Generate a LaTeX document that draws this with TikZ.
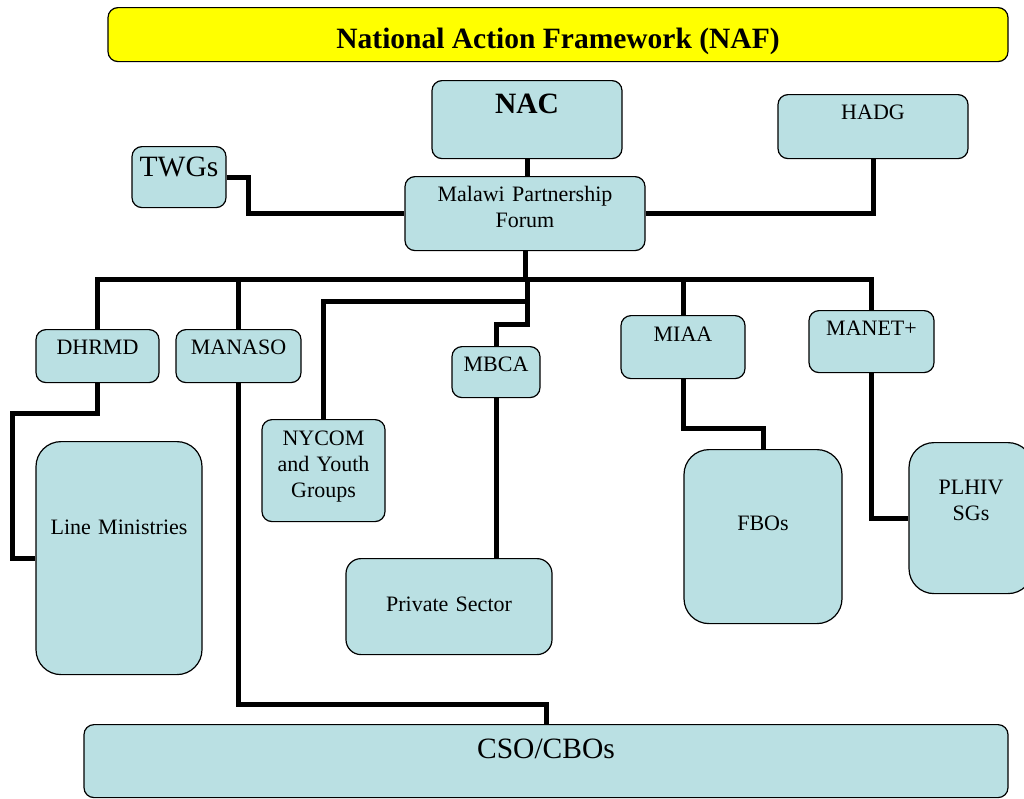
\documentclass[tikz,border=0pt]{standalone}
\usepackage{fontspec}
\setmainfont{Liberation Serif}
\usetikzlibrary{positioning}
\definecolor{myfill}{RGB}{186,224,227}
\definecolor{myyellow}{RGB}{255,255,0}
\newcommand{\boxfont}{\fontsize{22}{26}\selectfont}
\newcommand{\bigboxfont}{\fontsize{29.5}{34}\selectfont}
\tikzset{
  box/.style={rectangle, draw=black, fill=myfill, line width=1.2pt,
    rounded corners=10pt, align=center, anchor=north,
    inner ysep=0pt, inner xsep=2pt, font=\boxfont},
  bigbox/.style={box, rounded corners=25pt},
  titlebox/.style={box, fill=myyellow, font=\bigboxfont\bfseries},
  conn/.style={line width=5pt, color=black}
}

\begin{document}
\begin{tikzpicture}[x=1pt, y=-1pt]
  \useasboundingbox (0,0) rectangle (1024,798);

  % Title
  \node[titlebox, minimum width=900pt, text height=41pt, text depth=13pt] (naf) at (558,7) {National Action Framework (NAF)};

  % Top level
  \node[box, font=\bigboxfont\bfseries, minimum width=190pt, text height=33pt, text depth=45pt] (nac) at (527,80) {NAC};
  \node[box, minimum width=190pt, text height=25pt, text depth=39pt] (hadg) at (873,94) {HADG};
  \node[box, font=\bigboxfont, minimum width=94pt, text height=30pt, text depth=31pt] (twgs) at (179,146) {TWGs};
  \node[box, minimum width=240pt, text width=230pt, text height=25pt, text depth=49pt] (mpf) at (525,176) {Malawi Partnership\\Forum};

  % Second level
  \node[box, minimum width=123pt, text height=25pt, text depth=28pt] (dhrmd) at (97.5,329) {DHRMD};
  \node[box, minimum width=125pt, text height=25pt, text depth=28pt] (manaso) at (238.5,329) {MANASO};
  \node[box, minimum width=88pt, text height=25pt, text depth=26pt] (mbca) at (496,346) {MBCA};
  \node[box, minimum width=124pt, text height=26pt, text depth=37pt] (miaa) at (683,315) {MIAA};
  \node[box, minimum width=125pt, text height=25pt, text depth=37pt] (manet) at (871.5,310) {MANET+};
  \node[box, minimum width=123pt, text width=113pt, text height=26pt, text depth=76pt] (nycom) at (323.5,419) {NYCOM\\and Youth\\Groups};

  % Bottom level
  \node[bigbox, minimum width=166pt, text width=156pt, text height=93pt, text depth=140pt] (lmin) at (119,441) {Line Ministries};
  \node[box, rounded corners=15pt, minimum width=206pt, text width=196pt, text height=53pt, text depth=43pt] (psec) at (449,558) {Private Sector};
  \node[bigbox, minimum width=158pt, text width=148pt, text height=81pt, text depth=93pt] (fbo) at (763,449) {FBOs};
  \node[bigbox, minimum width=124pt, text width=114pt, text height=52pt, text depth=99pt] (plhiv) at (971,442) {PLHIV\\SGs};
  \node[box, font=\bigboxfont, minimum width=924pt, text height=34pt, text depth=39pt] (cso) at (546,724) {CSO/CBOs};

  % Connectors
  \coordinate (bus) at (527,279);
  \coordinate (split) at (527,301);
  \draw[conn] (nac.south) -- (nac.south |- mpf.north);
  \draw[conn] (twgs.east) -- ++(22,0) |- (mpf.west);
  \draw[conn] (hadg.south) |- (mpf.east);
  \draw[conn] (mpf.south) -- (mpf.south |- bus);
  \draw[conn] (dhrmd.north) |- (bus) -| (manet.north);
  \draw[conn] (manaso.north) -- (manaso.north |- bus);
  \draw[conn] (miaa.north) -- (miaa.north |- bus);
  \draw[conn] (bus) -- ++(0,45) -| (mbca.north);
  \draw[conn] (nycom.north) |- (split);
  \draw[conn] (mbca.south) -- (mbca.south |- psec.north);
  \draw[conn] (miaa.south) -- ++(0,49) -| (fbo.north);
  \draw[conn] (manet.south) |- (plhiv.west);
  \draw[conn] (dhrmd.south) -- ++(0,30) -- ++(-85,0) |- (lmin.west);
  \draw[conn] (manaso.south) -- ++(0,321) -| (cso.north);
\end{tikzpicture}
\end{document}
